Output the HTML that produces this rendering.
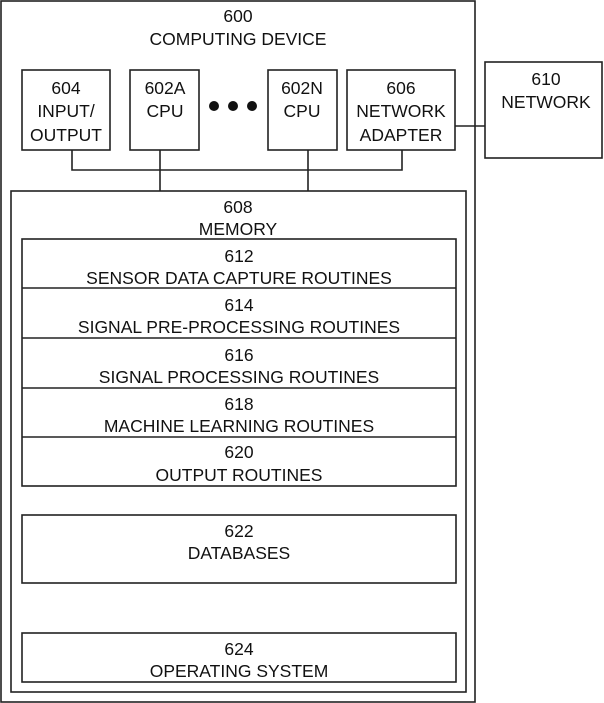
<!DOCTYPE html>
<html><head><meta charset="utf-8"><style>
html,body{margin:0;padding:0;background:#fff;}
svg{display:block;}
text{font-family:"Liberation Sans",Arial,sans-serif;font-size:17.5px;fill:#111;text-anchor:middle;}
</style></head><body>
<svg width="604" height="703" viewBox="0 0 604 703">
<g fill="none" stroke="#222" stroke-width="1.6">
<rect x="1" y="1" width="474" height="701"/>
<rect x="22" y="70" width="88" height="80"/>
<rect x="130" y="70" width="69" height="80"/>
<rect x="268" y="70" width="69" height="80"/>
<rect x="347" y="70" width="108" height="80"/>
<rect x="485" y="62" width="117" height="96"/>
<line x1="455" y1="126" x2="485" y2="126"/>
<polyline points="72,150 72,170 402,170 402,150"/>
<line x1="160" y1="150" x2="160" y2="191"/>
<line x1="308" y1="150" x2="308" y2="191"/>
<rect x="11" y="191" width="455" height="501"/>
<rect x="22" y="239" width="434" height="247"/>
<line x1="22" y1="288" x2="456" y2="288"/>
<line x1="22" y1="338" x2="456" y2="338"/>
<line x1="22" y1="388" x2="456" y2="388"/>
<line x1="22" y1="437" x2="456" y2="437"/>
<rect x="22" y="515" width="434" height="68"/>
<rect x="22" y="633" width="434" height="49"/>
</g>
<g fill="#111"><circle cx="214" cy="106" r="5"/><circle cx="233" cy="106" r="5"/><circle cx="252" cy="106" r="5"/></g>
<text x="238" y="22">600</text><text x="238" y="45">COMPUTING DEVICE</text>
<text x="66" y="94">604</text><text x="66" y="117">INPUT/</text><text x="66" y="141">OUTPUT</text>
<text x="165" y="94">602A</text><text x="165" y="117">CPU</text>
<text x="302" y="94">602N</text><text x="302" y="117">CPU</text>
<text x="401" y="94">606</text><text x="401" y="117">NETWORK</text><text x="401" y="141">ADAPTER</text>
<text x="546" y="85">610</text><text x="546" y="108">NETWORK</text>
<text x="238" y="213">608</text><text x="238" y="235">MEMORY</text>
<text x="239" y="262">612</text><text x="239" y="284">SENSOR DATA CAPTURE ROUTINES</text>
<text x="239" y="311">614</text><text x="239" y="333">SIGNAL PRE-PROCESSING ROUTINES</text>
<text x="239" y="361">616</text><text x="239" y="383">SIGNAL PROCESSING ROUTINES</text>
<text x="239" y="410">618</text><text x="239" y="432">MACHINE LEARNING ROUTINES</text>
<text x="239" y="458">620</text><text x="239" y="481">OUTPUT ROUTINES</text>
<text x="239" y="537">622</text><text x="239" y="559">DATABASES</text>
<text x="239" y="655">624</text><text x="239" y="677">OPERATING SYSTEM</text>
</svg>
</body></html>
